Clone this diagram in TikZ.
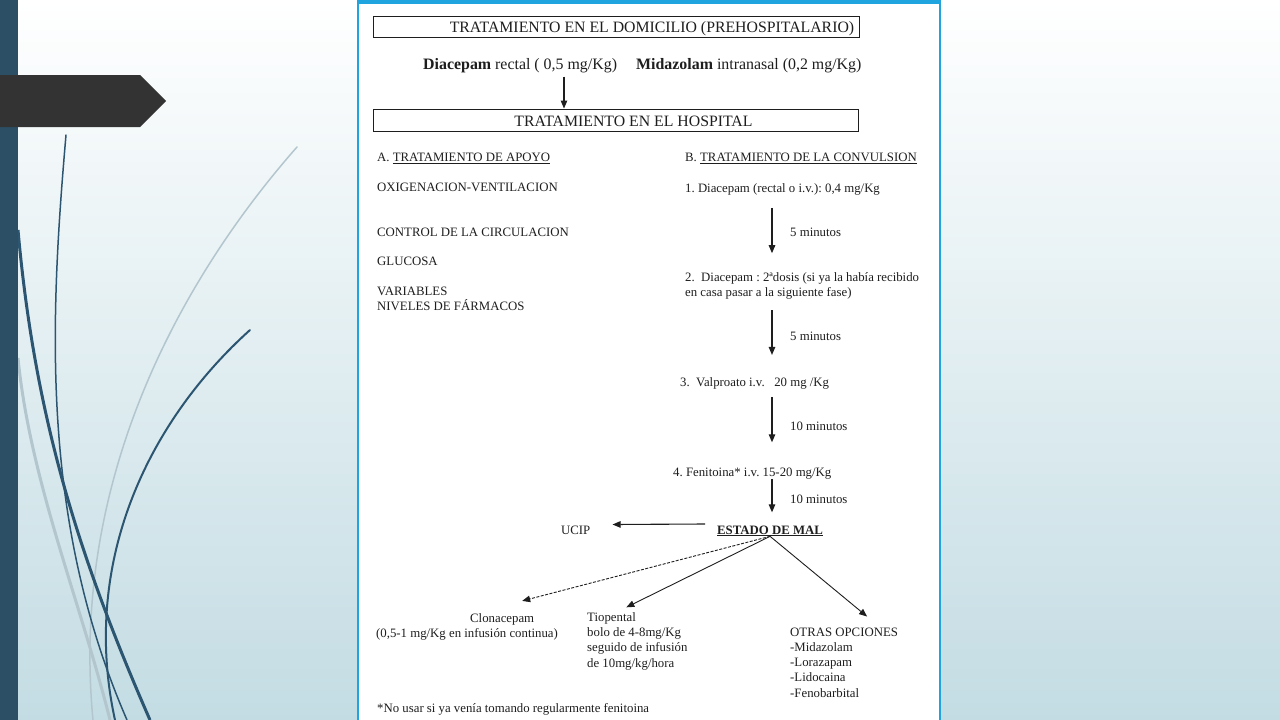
\documentclass[tikz,border=0pt]{standalone}
\usepackage{fontspec}
\setmainfont{Liberation Serif}
\usetikzlibrary{arrows.meta}
\frenchspacing

\definecolor{inkc}{HTML}{1E1E1E}
\definecolor{barc}{HTML}{2C4F65}
\definecolor{tagc}{HTML}{333333}
\definecolor{pagec}{HTML}{1FA4E0}
\definecolor{bgc}{HTML}{C3DCE3}
\definecolor{curvec}{HTML}{2B5570}
\definecolor{mistc}{HTML}{B3C6CE}

\newcommand{\bodyfont}{\fontsize{12.8}{15.2}\selectfont}
\newcommand{\headfont}{\fontsize{15.8}{18}\selectfont}

\tikzset{
  txt/.style={anchor=base west, inner sep=0pt, text=inkc, font=\bodyfont},
  lst/.style={txt, align=left},
  hbox/.style={draw=inkc, line width=1pt, inner sep=0pt},
  htxt/.style={anchor=base, inner sep=0pt, text=inkc, font=\headfont},
  arr/.style={draw=inkc, line width=1.1pt, -{Triangle[length=8pt,width=6.5pt]}},
}

\begin{document}
\begin{tikzpicture}[x=1pt, y=-1pt]

% SLIDE BACKGROUND
\shade[top color=white, bottom color=bgc] (0,0) rectangle (1280,720);
\useasboundingbox (0,0) rectangle (1280,720);

\draw[mistc, line width=1.5pt, line cap=round] (297,147) .. controls (180,280) and (70,480) .. (93,720);
\draw[mistc, line width=3pt] (18,358) .. controls (30,480) and (80,600) .. (110,720);
\draw[curvec, line width=1.5pt, line cap=round] (66,135) .. controls (50,320) and (40,520) .. (127,720);
\draw[curvec, line width=3pt] (18,230) .. controls (35,420) and (80,560) .. (150,720);
\draw[curvec, line width=2pt, line cap=round] (250,330) .. controls (150,420) and (80,560) .. (115,720);

\fill[barc] (0,0) rectangle (18,720);
\fill[tagc] (0,75) -- (140,75) -- (166,101) -- (140,127) -- (0,127) -- cycle;

% PAGE
\fill[white] (357,0) rectangle (941,720);
\draw[pagec, line width=2pt] (358,720) -- (358,2) -- (940,2) -- (940,720);
\draw[pagec, line width=4pt] (357,2) -- (941,2);

% PREHOSPITAL
\node[hbox, minimum width=486pt, minimum height=21pt] (dombox) at (616,26.5) {};
\node[htxt] (dom) at (652,32) {TRATAMIENTO EN EL DOMICILIO (PREHOSPITALARIO)};
\node[htxt, anchor=base west, font=\fontsize{15.9}{18}\selectfont] (dia) at (423,69) {\textbf{Diacepam} rectal ( 0,5 mg/Kg)};
\node[htxt, anchor=base west, font=\fontsize{15.9}{18}\selectfont] (mid) at (636,69) {\textbf{Midazolam} intranasal (0,2 mg/Kg)};

\node[hbox, minimum width=485pt, minimum height=22pt] (hosp) at (615.5,120) {};
\node[htxt] (hospt) at (633.5,126) {TRATAMIENTO EN EL HOSPITAL};

\coordinate (colA) at (564,0);
\draw[arr, shorten <=4pt] (dia.south -| colA) -- (hosp.north -| colA);

% A. APOYO
\node[txt] (apoyo) at (377,161.5) {A. \underline{TRATAMIENTO DE APOYO}};
\node[txt] (oxi) at (377,191.5) {OXIGENACION-VENTILACION};
\node[txt] (circ) at (377,236.5) {CONTROL DE LA CIRCULACION};
\node[txt] (gluc) at (377,265.5) {GLUCOSA};
\node[lst] (var) at (377,310.5) {VARIABLES\\NIVELES DE FÁRMACOS};

% B. CONVULSION
\node[txt] (conv) at (685,161.5) {B. \underline{TRATAMIENTO DE LA CONVULSION}};
\node[txt] (s1) at (685,192) {1. Diacepam (rectal o i.v.): 0,4 mg/Kg};
\node[lst] (s2) at (685,296.5) {2.\ \ Diacepam : 2ªdosis (si ya la había recibido\\en casa pasar a la siguiente fase)};
\node[txt] (s3) at (680,386) {3.\ \ Valproato i.v.\ \ \ 20 mg /Kg};
\node[txt] (s4) at (673,476) {4. Fenitoina* i.v. 15-20 mg/Kg};

\node[txt] (m1) at (790,236) {5 minutos};
\node[txt] (m2) at (790,340) {5 minutos};
\node[txt] (m3) at (790,430) {10 minutos};
\node[txt] (m4) at (790,503) {10 minutos};

\node[txt] (estado) at (717,534) {\underline{\textbf{ESTADO DE MAL}}};
\node[txt] (ucip) at (561,534.5) {UCIP};

\coordinate (colB) at (772,0);
\draw[arr, shorten <=13pt, shorten >=19pt] (s1.south -| colB) -- (s2.north -| colB);
\draw[arr, shorten <=11pt, shorten >=22pt] (s2.south -| colB) -- (s3.north -| colB);
\draw[arr, shorten <=8pt, shorten >=25pt] (s3.south -| colB) -- (s4.north -| colB);
\draw[arr, shorten >=13pt] (s4.south -| colB) -- (estado.north -| colB);

\draw[arr] ([xshift=-12pt,yshift=10pt]estado.base west) -- ([xshift=22pt,yshift=10pt]ucip.base east);

% OPCIONES
\node[txt] (clon) at (470,622) {Clonacepam};
\node[txt] (clond) at (376,637) {(0,5-1 mg/Kg en infusión continua)};
\node[lst] (tio) at (587,667) {Tiopental\\bolo de 4-8mg/Kg\\seguido de infusión\\de 10mg/kg/hora};
\node[lst] (otras) at (790,697) {OTRAS OPCIONES\\-Midazolam\\-Lorazapam\\-Lidocaina\\-Fenobarbital};

\draw[arr, line width=0.9pt, dash pattern=on 3pt off 1.5pt] (estado.south) -- ([xshift=20pt,yshift=12pt]clon.north);
\draw[arr, line width=0.9pt] (estado.south) -- ([xshift=-11pt,yshift=5pt]tio.north);
\draw[arr, line width=0.9pt] (estado.south) -- ([xshift=23pt,yshift=11pt]otras.north);

\node[txt] (nota) at (377,712) {*No usar si ya venía tomando regularmente fenitoina};

\end{tikzpicture}
\end{document}
